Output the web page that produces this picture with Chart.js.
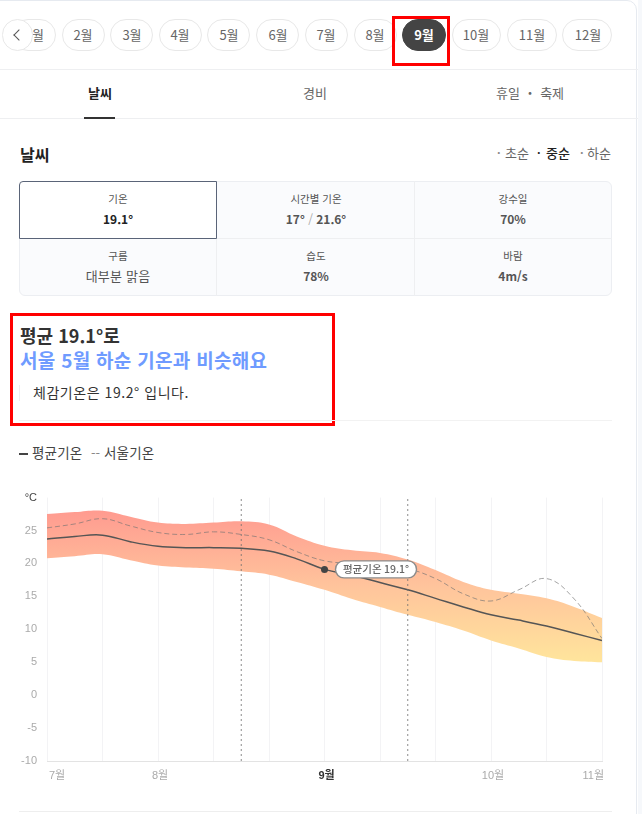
<!DOCTYPE html>
<html lang="ko"><head><meta charset="utf-8">
<script src="https://cdn.jsdelivr.net/npm/chart.js@4"></script>
<style>
html,body{margin:0;padding:0;background:#fff;width:642px;height:814px;overflow:hidden;font-family:"Noto Sans CJK KR","Noto Sans",sans-serif;color:#333}
#page{position:absolute;left:0;top:0;width:642px;height:814px;overflow:hidden}
.card{position:absolute;left:-20px;top:0;width:657px;height:840px;border:1px solid #e6eaf0;border-radius:10px;box-sizing:border-box}
.edge{position:absolute;left:638px;top:0;width:4px;height:814px;background:#f6f8fb}
.c{position:absolute;transform:translate(-50%,-50%);white-space:nowrap;line-height:1}
.l{position:absolute;transform:translateY(-50%);white-space:nowrap;line-height:1}
.p{position:absolute;top:19px;height:32px;box-sizing:border-box;border:1px solid #e8e8e8;border-radius:16px;background:#fff}
.r{position:absolute;background:#eeeff1}
.m{font-size:13px;color:#666}
.box{position:absolute;border:3px solid #f00;box-sizing:border-box}
.k{font-size:10.5px;color:#555}.v{font-size:12px;color:#555;font-weight:700}
#wrap{position:absolute;left:0;top:481px;width:630px;height:311px}
</style></head><body><div id="page">
<div class="card"></div><div class="edge"></div>
<div class="p" style="left:12px;width:44px"></div><span class="c m" style="left:38px;top:34px">월</span>
<div class="p" style="left:2px;width:31px"></div>
<div style="position:absolute;left:15px;top:31px;width:7px;height:7px;border-left:1px solid #555;border-bottom:1px solid #555;transform:rotate(45deg)"></div>
<div class="p" style="left:62px;width:43px"></div><span class="c m" style="left:83px;top:34px">2월</span>
<div class="p" style="left:110px;width:43px"></div><span class="c m" style="left:132px;top:34px">3월</span>
<div class="p" style="left:159px;width:43px"></div><span class="c m" style="left:180px;top:34px">4월</span>
<div class="p" style="left:207px;width:43px"></div><span class="c m" style="left:229px;top:34px">5월</span>
<div class="p" style="left:256px;width:43px"></div><span class="c m" style="left:278px;top:34px">6월</span>
<div class="p" style="left:305px;width:43px"></div><span class="c m" style="left:326px;top:34px">7월</span>
<div class="p" style="left:354px;width:43px"></div><span class="c m" style="left:375px;top:34px">8월</span>
<div class="p" style="left:452px;width:49px"></div><span class="c m" style="left:476px;top:34px">10월</span>
<div class="p" style="left:507px;width:50px"></div><span class="c m" style="left:532px;top:34px">11월</span>
<div class="p" style="left:562px;width:50px"></div><span class="c m" style="left:588px;top:34px">12월</span>
<div class="p" style="left:402px;width:44px;background:#444;border-color:#444"></div><span class="c" style="left:424px;top:34px;font-size:13px;font-weight:700;color:#fff">9월</span>
<div class="box" style="left:392px;top:16px;width:58px;height:50px"></div>
<div class="r" style="left:0;top:69px;width:638px;height:1px"></div>
<span class="c" style="left:100px;top:92px;font-size:13px;font-weight:700;color:#222">날씨</span>
<span class="c m" style="left:315px;top:92px">경비</span>
<span class="c m" style="left:530px;top:92px">휴일 ・ 축제</span>
<div class="r" style="left:0;top:118px;width:638px;height:1px"></div>
<div class="r" style="left:84px;top:117px;width:31px;height:2px;background:#333"></div>
<span class="l" style="left:20px;top:154px;font-size:16px;font-weight:700;color:#222">날씨</span>
<span class="l m" style="left:497px;top:152px;color:#888;font-weight:700;font-size:11px">·</span><span class="l m" style="left:505px;top:152px">초순</span>
<span class="l" style="left:537px;top:152px;font-size:11px;font-weight:700;color:#222">·</span><span class="l" style="left:546px;top:152px;font-size:13px;font-weight:500;color:#222">중순</span>
<span class="l m" style="left:580px;top:152px;color:#888;font-weight:700;font-size:11px">·</span><span class="l m" style="left:587px;top:152px">하순</span>
<div style="position:absolute;left:19px;top:181px;width:593px;height:115px;box-sizing:border-box;border:1px solid #eceef2;border-radius:6px;background:#fafbfd"></div>
<div class="r" style="left:216px;top:181px;width:1px;height:115px"></div>
<div class="r" style="left:414px;top:181px;width:1px;height:115px"></div>
<div class="r" style="left:19px;top:238px;width:593px;height:1px"></div>
<div style="position:absolute;left:19px;top:181px;width:198px;height:58px;box-sizing:border-box;border:1px solid #5a6478;border-radius:4px 0 0 0;background:#fff"></div>
<span class="c k" style="left:118px;top:199px">기온</span><span class="c v" style="left:118px;top:219px;color:#222">19.1°</span>
<span class="c k" style="left:316px;top:199px">시간별 기온</span><span class="c v" style="left:316px;top:219px">17° <span style="color:#aaa;font-weight:400">/</span> 21.6°</span>
<span class="c k" style="left:513px;top:199px">강수일</span><span class="c v" style="left:513px;top:219px">70%</span>
<span class="c k" style="left:118px;top:256px">구름</span><span class="c" style="left:118px;top:275px;font-size:13px;color:#555;letter-spacing:.2px">대부분 맑음</span>
<span class="c k" style="left:316px;top:256px">습도</span><span class="c v" style="left:316px;top:276px">78%</span>
<span class="c k" style="left:513px;top:256px">바람</span><span class="c v" style="left:513px;top:276px">4m/s</span>
<div class="box" style="left:10px;top:313px;width:325px;height:113px"></div>
<span class="l" style="left:20px;top:335px;font-size:18px;font-weight:700;color:#333">평균 19.1°로</span>
<span class="l" style="left:20px;top:359px;font-size:19px;font-weight:700;color:#6f9bff;letter-spacing:.3px">서울 5월 하순 기온과 비슷해요</span>
<div class="r" style="left:19px;top:385px;width:1px;height:16px"></div>
<span class="l" style="left:33px;top:392px;font-size:14px;color:#333;letter-spacing:.55px">체감기온은 19.2° 입니다.</span>
<div class="r" style="left:19px;top:420px;width:593px;height:1px;background:#f2f2f2"></div>
<div class="r" style="left:19px;top:453px;width:9px;height:2px;background:#444"></div>
<span class="l" style="left:32px;top:453px;font-size:13.5px;color:#444;letter-spacing:.15px">평균기온</span>
<span class="l" style="left:91px;top:452px;font-size:13px;color:#888">--</span>
<span class="l" style="left:104px;top:453px;font-size:13.5px;color:#444;letter-spacing:.15px">서울기온</span>
<div class="r" style="left:19px;top:811px;width:593px;height:1px;background:#eeeeee"></div>
<div id="wrap"><canvas id="c"></canvas></div>
</div>
<script>
const xPositions = [0,0.5,1,1.5,2,2.5,3,3.5,4,4.5,5,5.5,6,6.5,7,7.5,8,8.5,9,9.5,10];
const averageTemp = [23.7,24.1,24.3,23.3,22.6,22.4,22.4,22.3,21.9,20.7,19.1,18.2,17.1,16,14.7,13.4,12.2,11.4,10.5,9.4,8.3];
const upperBand = [27.5,27.8,28,27.1,26.2,26,26.2,26.4,25.9,24.1,22.7,22,21.6,20.6,19,17.2,16,15.4,14.7,13.4,11.7];
const lowerBand = [20.8,21.1,21.4,20.5,19.7,19.4,19.2,18.8,18.3,17.2,16,14.6,13.4,12.2,11.1,9.8,8.3,7.1,5.8,5.2,5];
const seoulTemp = [25.4,26,26.8,25.7,24.7,24.4,24.8,24.4,23.6,21.8,20.4,20,19.7,19.2,17.7,15.4,14.3,16,17.7,14.6,8.6];
const monthTicks = {0:'7월',2:'8월',5:'9월',8:'10월',10:'11월'};
const selectedX = 5, selectedTemp = 19.1, selectedLabel = '평균기온 19.1°';
const rangeMarkers = [3.5,6.5];
const yMin = -10, yMax = 30;
const pts = a => a.map((y,i)=>({x:xPositions[i],y}));
const bandGradient = ctx => {
  const {chart} = ctx; const area = chart.chartArea;
  if(!area) return '#ffc0a0';
  const h = area.bottom-area.top;
  const toPx = v => area.bottom-(v-yMin)/(yMax-yMin)*h;
  const gr = chart.ctx.createLinearGradient(0,toPx(28),0,toPx(5));
  gr.addColorStop(0,'#ff9b90'); gr.addColorStop(0.5,'#ffc49c'); gr.addColorStop(1,'#ffe59c');
  return gr;
};
const pill = {id:'pill',afterDatasetsDraw(chart){
  const {ctx:g,scales:{x,y}} = chart;
  const cx = x.getPixelForValue(selectedX)+11, cy = y.getPixelForValue(selectedTemp);
  g.save();
  g.beginPath(); g.roundRect(cx,cy-8.5,81,17,8.5);
  g.fillStyle='#fff'; g.fill(); g.lineWidth=1.4; g.strokeStyle='#8c8c8c'; g.stroke();
  g.fillStyle='#666'; g.font='500 10.5px "Noto Sans CJK KR",sans-serif';
  g.textAlign='center'; g.textBaseline='middle';
  g.fillText(selectedLabel,cx+40.5,cy);
  g.restore();
}};
const markerSets = rangeMarkers.map(v=>({type:'line',order:0,data:[{x:v,y:yMin},{x:v,y:yMax}],borderColor:'rgba(110,110,110,.8)',borderWidth:1,borderDash:[2,3],pointRadius:0,fill:false,tension:0}));
new Chart(document.getElementById('c'),{
  type:'line',
  data:{datasets:[
    {order:5,data:pts(upperBand),fill:'+1',backgroundColor:bandGradient,borderWidth:0,pointRadius:0,tension:.4},
    {order:4,data:pts(lowerBand),fill:false,borderWidth:0,pointRadius:0,tension:.4},
    {order:3,data:pts(seoulTemp),borderColor:'rgba(115,115,115,.65)',borderWidth:1,borderDash:[5,3],pointRadius:0,fill:false,tension:.4},
    {order:2,data:pts(averageTemp),borderColor:'#555',borderWidth:1.5,pointRadius:0,fill:false,tension:.4},
    {order:1,data:[{x:selectedX,y:selectedTemp}],pointRadius:3.5,pointBackgroundColor:'#444',pointBorderWidth:0,showLine:false},
    ...markerSets
  ]},
  options:{
    responsive:true,maintainAspectRatio:false,animation:false,
    layout:{padding:{top:4,right:28,left:0,bottom:0}},
    plugins:{legend:{display:false},tooltip:{enabled:false}},
    scales:{
      x:{type:'linear',min:0,max:10,
        grid:{color:'#f3f3f5',drawTicks:false},
        border:{color:'#e3e3e3'},
        afterFit(s){s.height=31},
        ticks:{stepSize:1,autoSkip:false,maxRotation:0,align:'inner',labelOffset:2,padding:8,
          callback:v=>monthTicks[v]||'',
          color:c=>c.tick&&c.tick.value===selectedX?'#333':'#aaa',
          font:c=>({family:'"Liberation Sans","Noto Sans CJK KR",sans-serif',size:11,weight:c.tick&&c.tick.value===selectedX?'700':'400'})}},
      y:{min:yMin,max:yMax,
        grid:{display:false,drawTicks:false},border:{display:false},
        afterFit(s){s.width=47},
        ticks:{stepSize:5,padding:10,
          callback:v=>v===yMax?'°C':String(v),
          color:c=>c.tick&&c.tick.value===yMax?'#444':'#aaa',
          font:{family:'"Liberation Sans",sans-serif',size:11}}}
    }
  },
  plugins:[pill]
});
</script></body></html>
